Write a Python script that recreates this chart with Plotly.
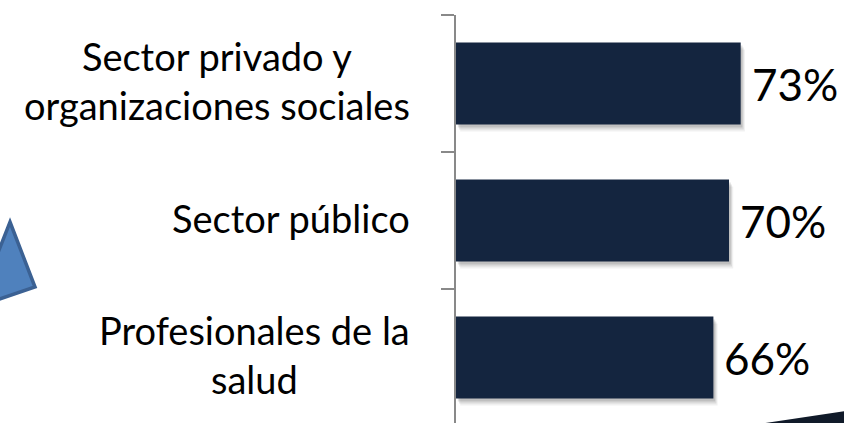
import plotly.graph_objects as go

# Categories listed bottom-to-top as they appear on the axis
categories = ["Profesionales de la salud", "Sector público",
              "Sector privado y organizaciones sociales"]
tick_labels = ["Profesionales de la<br>salud", "Sector público",
               "Sector privado y<br>organizaciones sociales"]
values = [66, 70, 73]

W, H = 844, 423
ML, MR, MT, MB = 456, 0, 15, 0
PX_PER_UNIT = 3.9
plot_w = W - ML - MR
plot_h = H - MT - MB

BAR = "#14253F"
FONT = "Lato"


def px(x):
    return (x - ML) / plot_w


def py(y):
    return (H - MB - y) / plot_h


fig = go.Figure()

# soft drop shadow, layered bars
for off, alpha in [(7, 0.06), (5, 0.09), (3, 0.12)]:
    fig.add_trace(go.Bar(
        x=values, y=categories, orientation="h",
        width=0.6, offset=-0.3 - off / 137.0, base=off / PX_PER_UNIT * 0.6,
        marker=dict(color=f"rgba(0,0,0,{alpha})", line=dict(width=0)),
        hoverinfo="skip", showlegend=False,
    ))

fig.add_trace(go.Bar(
    x=values, y=categories, orientation="h", width=0.6,
    marker=dict(color=BAR, line=dict(width=0)),
    showlegend=False,
))

# value labels just past the end of each bar
for cat, v in zip(categories, values):
    fig.add_annotation(
        x=v, xref="x", xanchor="left", xshift=9,
        y=cat, yref="y", yanchor="middle", yshift=0,
        text=f"{v}%", showarrow=False,
        font=dict(family=FONT, size=44, color="#000000"),
    )

# category labels, centred lines, right-aligned block left of the axis
for cat, lab in zip(categories, tick_labels):
    fig.add_annotation(
        x=px(412), xref="paper", xanchor="right",
        y=cat, yref="y", yanchor="middle", yshift=3,
        text=lab, showarrow=False, align="center",
        font=dict(family=FONT, size=38, color="#000000"),
    )

shapes = [
    # blue arrow tip at the left edge
    dict(type="path", xref="paper", yref="paper",
         path=(f"M {px(10)},{py(222)} L {px(35)},{py(287)} "
               f"L {px(-12)},{py(303)} L {px(-12)},{py(278)} Z"),
         fillcolor="#4F81BD", line=dict(color="#3B6193", width=3.5),
         layer="above"),
    # dark wedge in the bottom-right corner
    dict(type="path", xref="paper", yref="paper",
         path=(f"M {px(752)},{py(425)} L {px(846)},{py(411)} "
               f"L {px(846)},{py(425)} Z"),
         fillcolor="#101A29", line=dict(width=0), layer="above"),
]

fig.update_layout(
    width=W, height=H,
    margin=dict(l=ML, r=MR, t=MT, b=MB, pad=0),
    paper_bgcolor="white", plot_bgcolor="white",
    barmode="overlay", bargap=0.4,
    showlegend=False, shapes=shapes,
    font=dict(family=FONT),
    xaxis=dict(range=[0, plot_w / PX_PER_UNIT], visible=False, fixedrange=True),
    yaxis=dict(
        type="category", categoryorder="array", categoryarray=categories,
        range=[2.5 - plot_h / 137.0, 2.5],
        showline=True, linecolor="#898989", linewidth=2,
        ticks="outside", tickson="boundaries", ticklen=13,
        tickwidth=2, tickcolor="#898989",
        showticklabels=False, showgrid=False, zeroline=False,
        fixedrange=True,
    ),
)

fig.write_html("out.html")
